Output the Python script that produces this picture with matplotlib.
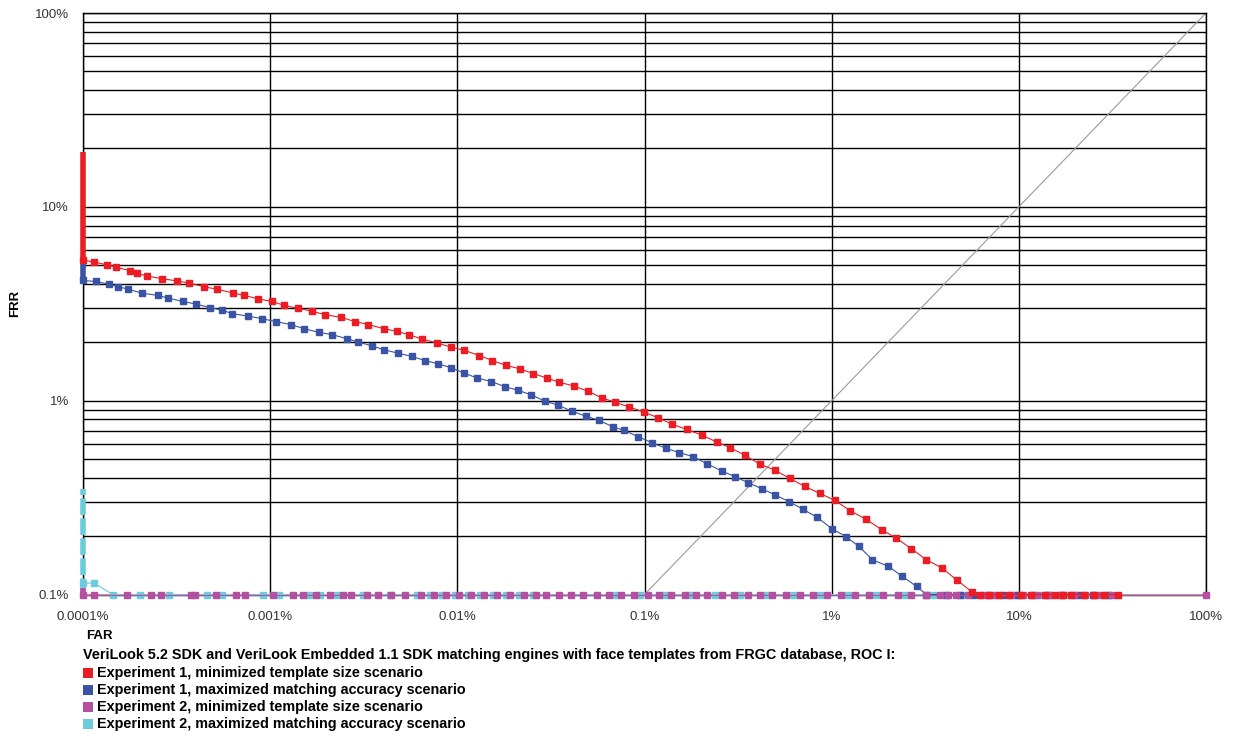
import matplotlib
matplotlib.use('Agg')
import matplotlib.pyplot as plt
from matplotlib.ticker import LogLocator, NullFormatter, NullLocator
from matplotlib.patches import Rectangle

# FAR / FRR in percent
red_far = [1e-4, 1.146e-4, 1.35e-4, 1.50e-4, 1.78e-4, 1.95e-4, 2.19e-4, 2.63e-4, 3.17e-4, 3.70e-4,
           4.43e-4, 5.18e-4, 6.35e-4, 7.27e-4, 8.64e-4, 1.02e-3, 1.19e-3, 1.40e-3, 1.68e-3, 1.96e-3,
           2.39e-3, 2.84e-3, 3.34e-3, 4.06e-3, 4.74e-3, 5.53e-3, 6.45e-3, 7.81e-3, 9.21e-3, 1.085e-2,
           1.31e-2, 1.54e-2, 1.82e-2, 2.16e-2, 2.54e-2, 3.00e-2, 3.50e-2, 4.20e-2, 4.97e-2, 5.90e-2,
           6.95e-2, 8.29e-2, 9.93e-2, 0.118, 0.141, 0.168, 0.204, 0.243, 0.286, 0.344,
           0.414, 0.497, 0.598, 0.719, 0.865, 1.04, 1.26, 1.52, 1.85, 2.22,
           2.67, 3.21, 3.89, 4.65, 5.59, 6.24, 6.95, 7.80, 8.9, 10.3,
           11.6, 13.8, 15.6, 17.3, 19.1, 22.2, 25.2, 28.5, 33.8]
red_frr = [5.32, 5.18, 5.02, 4.88, 4.69, 4.53, 4.40, 4.26, 4.15, 4.04,
           3.87, 3.76, 3.59, 3.49, 3.35, 3.25, 3.10, 3.00, 2.89, 2.78,
           2.69, 2.56, 2.47, 2.35, 2.28, 2.19, 2.08, 1.985, 1.89, 1.82,
           1.71, 1.61, 1.52, 1.46, 1.38, 1.31, 1.245, 1.19, 1.12, 1.035,
           0.982, 0.928, 0.873, 0.817, 0.755, 0.711, 0.662, 0.612, 0.573, 0.523,
           0.470, 0.438, 0.397, 0.361, 0.332, 0.306, 0.270, 0.245, 0.216, 0.195,
           0.172, 0.151, 0.137, 0.119, 0.1036, 0.1, 0.1, 0.1, 0.1, 0.1,
           0.1, 0.1, 0.1, 0.1, 0.1, 0.1, 0.1, 0.1, 0.1]

blue_far = [1e-4, 1.17e-4, 1.38e-4, 1.54e-4, 1.75e-4, 2.06e-4, 2.52e-4, 2.86e-4, 3.41e-4, 4.01e-4,
            4.77e-4, 5.55e-4, 6.27e-4, 7.64e-4, 9.01e-4, 1.07e-3, 1.29e-3, 1.52e-3, 1.83e-3, 2.15e-3,
            2.56e-3, 2.94e-3, 3.48e-3, 4.06e-3, 4.80e-3, 5.74e-3, 6.71e-3, 7.91e-3, 9.21e-3, 1.085e-2,
            1.27e-2, 1.52e-2, 1.80e-2, 2.12e-2, 2.49e-2, 2.94e-2, 3.46e-2, 4.08e-2, 4.85e-2, 5.73e-2,
            6.75e-2, 7.76e-2, 9.25e-2, 0.109, 0.130, 0.153, 0.181, 0.215, 0.258, 0.304,
            0.356, 0.422, 0.497, 0.593, 0.699, 0.837, 0.999, 1.19, 1.40, 1.65,
            2.00, 2.39, 2.84, 3.21, 4.07, 4.84, 5.68, 6.83, 8.21, 9.76,
            11.9, 14.3, 17.0, 20.7, 24.9, 29.9]
blue_frr = [4.17, 4.12, 3.99, 3.87, 3.76, 3.59, 3.49, 3.38, 3.25, 3.15,
            3.02, 2.93, 2.81, 2.73, 2.65, 2.56, 2.47, 2.35, 2.25, 2.19,
            2.09, 2.01, 1.92, 1.83, 1.76, 1.69, 1.61, 1.55, 1.48, 1.39,
            1.31, 1.255, 1.18, 1.13, 1.07, 0.994, 0.948, 0.883, 0.832, 0.791,
            0.734, 0.703, 0.652, 0.608, 0.568, 0.540, 0.515, 0.474, 0.434, 0.406,
            0.378, 0.352, 0.327, 0.301, 0.276, 0.250, 0.219, 0.199, 0.177, 0.151,
            0.140, 0.124, 0.110, 0.1, 0.1, 0.1, 0.1, 0.1, 0.1, 0.1,
            0.1, 0.1, 0.1, 0.1, 0.1, 0.1]

purple_far = [1e-4, 1.149e-4, 1.72e-4, 2.30e-4, 2.60e-4, 3.76e-4, 3.97e-4, 5.13e-4, 6.57e-4, 7.34e-4,
              1.03e-3, 1.32e-3, 1.50e-3, 1.76e-3, 2.09e-3, 2.46e-3, 2.69e-3, 3.28e-3, 3.75e-3, 4.42e-3,
              5.25e-3, 6.37e-3, 7.50e-3, 8.69e-3, 1.02e-2, 1.19e-2, 1.39e-2, 1.63e-2, 1.91e-2, 2.27e-2,
              2.63e-2, 2.97e-2, 3.50e-2, 4.03e-2, 4.71e-2, 5.55e-2, 6.48e-2, 7.48e-2, 8.82e-2, 0.104,
              0.119, 0.138, 0.164, 0.188, 0.216, 0.258, 0.299, 0.356, 0.413, 0.480,
              0.571, 0.680, 0.790, 0.939, 1.12, 1.33, 1.58, 1.89, 2.25, 2.67,
              3.18, 3.79, 4.19, 4.63, 5.37, 6.39, 7.42, 9.05, 10.5, 12.5,
              14.5, 16.9, 19.6, 22.7, 27.1, 31.4, 100.0]
purple_frr = [0.1] * len(purple_far)

cyan_far = [1e-4, 1.149e-4, 1.44e-4, 2.02e-4, 2.89e-4, 4.58e-4, 5.51e-4, 9.19e-4, 1.12e-3, 1.62e-3,
            1.85e-3, 2.27e-3, 3.14e-3, 4.37e-3, 6.06e-3, 7.14e-3, 8.25e-3, 9.71e-3, 1.14e-2, 1.32e-2,
            1.56e-2, 1.82e-2, 2.14e-2, 2.53e-2, 6.95e-2, 9.45e-2, 0.129, 0.175, 0.238, 0.323,
            0.445, 0.621, 0.865, 1.22, 1.72, 2.46, 3.47, 4.96, 7.00, 9.76,
            13.4, 18.3, 24.9, 29.9]
cyan_frr = [0.1145, 0.1145] + [0.1] * (len(cyan_far) - 2)

# thick stacks of points at FAR = 0.0001%
bar_far = 1e-4
red_bar = (19.1, 5.32)
blue_bar = (5.21, 4.17)
purple_bar = (0.108, 0.1)
cyan_bar = (0.349, 0.1)

x_ticks = [1e-4, 1e-3, 1e-2, 1e-1, 1, 10, 100]
x_labels = ['0.0001%', '0.001%', '0.01%', '0.1%', '1%', '10%', '100%']
y_ticks = [0.1, 1, 10, 100]
y_labels = ['0.1%', '1%', '10%', '100%']
diag = [0.1, 100]

legend_title = ('VeriLook 5.2 SDK and VeriLook Embedded 1.1 SDK matching engines with face '
                'templates from FRGC database, ROC I:')
legend_names = ['Experiment 1, minimized template size scenario',
                'Experiment 1, maximized matching accuracy scenario',
                'Experiment 2, minimized template size scenario',
                'Experiment 2, maximized matching accuracy scenario']

RED = '#ED1C24'
BLUE = '#3A53A4'
PURPLE = '#B54FA0'
CYAN = '#6CCCDC'

plt.rcParams['font.family'] = ['Liberation Sans', 'DejaVu Sans']

fig = plt.figure(figsize=(12.33, 7.38), dpi=100)
ax = fig.add_axes([83 / 1233, 1 - 594.5 / 738, 1123 / 1233, 581.5 / 738])
ax.set_xscale('log')
ax.set_yscale('log')
ax.set_xlim(1e-4, 100)
ax.set_ylim(0.1, 100)

ax.yaxis.set_minor_locator(LogLocator(base=10, subs=[2, 3, 4, 5, 6, 7, 8, 9]))
ax.yaxis.set_minor_formatter(NullFormatter())
ax.xaxis.set_minor_locator(NullLocator())
ax.grid(True, which='major', axis='both', color='black', lw=1.0, zorder=0)
ax.grid(True, which='minor', axis='y', color='black', lw=1.0, zorder=0)
ax.set_axisbelow(True)
for s in ax.spines.values():
    s.set_color('black')
    s.set_linewidth(1.0)

ax.set_xticks(x_ticks)
ax.set_xticklabels(x_labels)
ax.set_yticks(y_ticks)
ax.set_yticklabels(y_labels)
ax.tick_params(which='both', length=0)
ax.tick_params(axis='x', pad=12, labelsize=9.5, labelcolor='#333333')
ax.tick_params(axis='y', pad=10, labelsize=9.5, labelcolor='#333333')

ax.plot(diag, diag, color='#9a9a9a', lw=0.8, zorder=2)

ms = 4.9
ax.plot(cyan_far, cyan_frr, color=CYAN, lw=0.8, marker='s', ms=ms, mec=CYAN, clip_on=False, zorder=3)
ax.plot(blue_far, blue_frr, color=BLUE, lw=0.8, marker='s', ms=ms, mec=BLUE, clip_on=False, zorder=4)
ax.plot(purple_far, purple_frr, color=PURPLE, lw=0.8, marker='s', ms=ms, mec=PURPLE, clip_on=False, zorder=5)
ax.plot(red_far, red_frr, color=RED, lw=0.8, marker='s', ms=ms, mec=RED, clip_on=False, zorder=6)

ax.vlines(bar_far, cyan_bar[1], cyan_bar[0], color=CYAN, lw=4, linestyles=(0, (3, 0.6)), clip_on=False, zorder=3)
ax.vlines(bar_far, blue_bar[1], blue_bar[0], color=BLUE, lw=4, clip_on=False, zorder=4)
ax.vlines(bar_far, purple_bar[1], purple_bar[0], color=PURPLE, lw=4, clip_on=False, zorder=5)
ax.vlines(bar_far, red_bar[1], red_bar[0], color=RED, lw=4, clip_on=False, zorder=6)

fig.text(15 / 1233, 1 - 303 / 738, 'FRR', rotation=90, fontsize=9.5, fontweight='bold',
         ha='center', va='center')
fig.text(86 / 1233, 1 - 636 / 738, 'FAR', fontsize=9.5, fontweight='bold', ha='left', va='center')

fig.text(83 / 1233, 1 - 655 / 738, legend_title, fontsize=10.4, fontweight='bold', ha='left', va='center')
for i, (name, col) in enumerate(zip(legend_names, [RED, BLUE, PURPLE, CYAN])):
    yc = 673 + 17 * i
    fig.patches.append(Rectangle((83 / 1233, 1 - (yc + 5) / 738), 10 / 1233, 10 / 738,
                                 transform=fig.transFigure, facecolor=col, edgecolor='none'))
    fig.text(97 / 1233, 1 - yc / 738, name, fontsize=10.4, fontweight='bold', ha='left', va='center')

fig.savefig('out.png', dpi=100, facecolor='white')
